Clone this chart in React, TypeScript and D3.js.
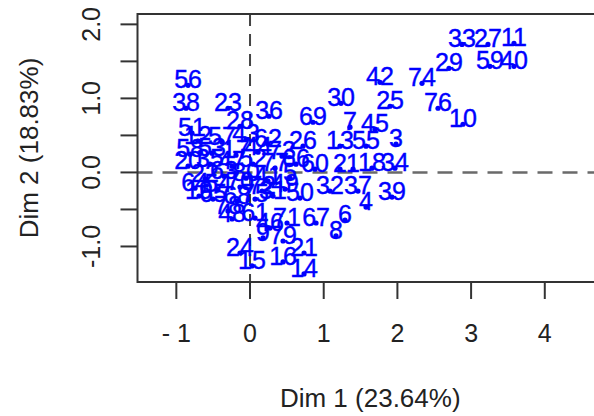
import React from "react";
import * as d3 from "d3";

// Individuals factor map: coordinates on Dim 1 / Dim 2 with row labels
const labels = [
  "33", "27", "11", "29", "59", "40", "42", "74", "76", "10",
  "30", "25", "69", "3", "56", "38", "23", "36", "51", "39",
  "4", "6", "8", "67", "14", "15", "24", "48", "19", "21",
  "16", "26", "32", "37", "18", "34", "45", "13", "55", "28",
  "60", "2", "1", "50", "31", "61", "46", "71", "9", "79",
  "7", "12", "57", "43", "62", "58", "53", "17", "44", "73",
  "20", "35", "47", "52", "77", "66", "22", "63", "80", "41",
  "5", "64", "54", "70", "72", "49", "65", "68", "75", "78",
];

const dim1 = [
  2.877, 3.229, 3.582, 2.700, 3.256, 3.582, 1.764, 2.334, 2.551, 2.890,
  1.235, 1.900, 0.855, 1.981, -0.841, -0.868, -0.299, 0.258, -0.787, 1.927,
  1.574, 1.289, 1.167, 0.896, 0.733, 0.027, -0.136, -0.244, -0.692, 0.733,
  0.448, 0.719, 1.085, 1.465, 1.655, 1.967, 1.696, 1.221, 1.574, -0.136,
  0.882, 1.221, 1.398, 0.678, 0.312, 0.068, 0.271, 0.502, 0.176, 0.448,
  1.357, -0.706, -0.380, -0.054, 0.244, -0.814, -0.516, -0.190, 0.109, 0.434,
  -0.841, -0.543, -0.244, 0.041, 0.339, 0.624, -0.611, -0.353, -0.054, 0.244,
  0.543, -0.746, -0.434, -0.136, 0.163, 0.475, -0.502, -0.176, 0.068, -0.299,
];

const dim2 = [
  1.729, 1.729, 1.743, 1.406, 1.433, 1.433, 1.217, 1.204, 0.867, 0.651,
  0.934, 0.894, 0.678, 0.381, 1.177, 0.867, 0.867, 0.759, 0.530, -0.333,
  -0.468, -0.643, -0.858, -0.683, -1.371, -1.263, -1.088, -0.629, -0.319, -1.088,
  -1.209, 0.354, -0.252, -0.252, 0.058, 0.058, 0.584, 0.354, 0.354, 0.624,
  0.044, 0.044, 0.044, -0.346, -0.319, -0.616, -0.751, -0.683, -0.885, -0.926,
  0.611, 0.422, 0.408, 0.449, 0.381, 0.247, 0.260, 0.233, 0.274, 0.220,
  0.085, 0.112, 0.085, 0.112, 0.058, 0.112, -0.090, -0.050, -0.077, -0.117,
  -0.077, -0.212, -0.225, -0.198, -0.252, -0.225, -0.360, -0.387, -0.360, -0.522,
];

const xTicks = [-1, 0, 1, 2, 3, 4];
const yTicks = [-1, -0.5, 0, 0.5, 1, 1.5, 2];
const yTickLabels = ["-1.0", "", "0.0", "", "1.0", "", "2.0"];

const xTitle = "Dim 1 (23.64%)";
const yTitle = "Dim 2 (18.83%)";

const W = 594;
const H = 416;
const left = 137.5;
const right = 603;
const top = 14;
const bottom = 282;

const font = "'Liberation Sans', Arial, Helvetica, sans-serif";

export default function App() {
  const x = d3.scaleLinear().domain([-1.527, 4.79]).range([left, right]);
  const y = d3.scaleLinear().domain([-1.48, 2.14]).range([bottom, top]);

  const pts = labels.map((l, i) => ({ label: l, x: dim1[i], y: dim2[i] }));

  return (
    <svg
      width={W}
      height={H}
      style={{ position: "absolute", left: 0, top: 0, background: "#fff" }}
      fontFamily={font}
    >
      {/* reference lines through the origin */}
      <line x1={x(0)} x2={x(0)} y1={top} y2={bottom} stroke="#444" strokeWidth={2} strokeDasharray="12 8" />
      <line x1={left} x2={right} y1={y(0)} y2={y(0)} stroke="#6a6a6a" strokeWidth={2.5} strokeDasharray="15 10" />

      {/* individuals */}
      <g fill="#0000ff">
        {pts.map((p) => (
          <circle key={"c" + p.label} cx={x(p.x)} cy={y(p.y)} r={2.6} />
        ))}
        {pts.map((p) => (
          <text
            key={"t" + p.label}
            x={x(p.x)}
            y={y(p.y) + 3}
            textAnchor="middle"
            fontSize={25}
            stroke="#0000ff"
            strokeWidth={0.4}
          >
            {p.label}
          </text>
        ))}
      </g>

      {/* frame */}
      <rect x={left} y={top} width={right - left} height={bottom - top} fill="none" stroke="#333" strokeWidth={2} />

      {/* axes */}
      <g stroke="#333" strokeWidth={2}>
        {xTicks.map((t) => (
          <line key={"xt" + t} x1={x(t)} x2={x(t)} y1={bottom} y2={bottom + 17} />
        ))}
        {yTicks.map((t) => (
          <line key={"yt" + t} x1={left} x2={left - 17} y1={y(t)} y2={y(t)} />
        ))}
      </g>
      <g fill="#222" fontSize={25} textAnchor="middle">
        {xTicks.map((t) => (
          <text key={"xl" + t} x={x(t)} y={342}>
            {t < 0 ? "- " + Math.abs(t) : String(t)}
          </text>
        ))}
        {yTicks.map((t, i) =>
          yTickLabels[i] ? (
            <text key={"yl" + t} transform={`translate(100,${y(t)}) rotate(-90)`}>
              {yTickLabels[i]}
            </text>
          ) : null
        )}
        <text x={(left + right) / 2} y={407} fontSize={26}>
          {xTitle}
        </text>
        <text transform={`translate(38,${(top + bottom) / 2}) rotate(-90)`} fontSize={26}>
          {yTitle}
        </text>
      </g>
    </svg>
  );
}
